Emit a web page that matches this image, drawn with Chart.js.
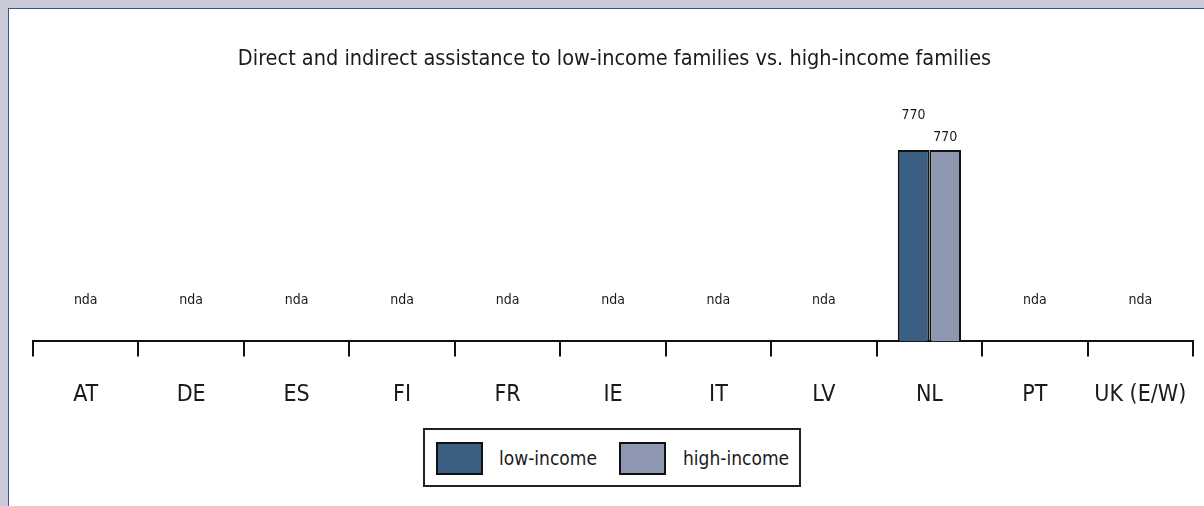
<!DOCTYPE html>
<html>
<head>
<meta charset="utf-8">
<script src="https://cdn.jsdelivr.net/npm/chart.js@4"></script>
<style>
  html, body { margin: 0; padding: 0; }
  body { width: 1204px; height: 506px; background: #c9ccd8; position: relative; overflow: hidden;
         font-family: "DejaVu Sans Condensed", "Roboto", sans-serif; }
  .panel { position: absolute; left: 8px; top: 8px; right: 0; bottom: 0; background: #fff; overflow: hidden;
           border-left: 1px solid #2c5a8a; border-top: 1px solid #2c5a8a; }
  canvas { position: absolute; left: 0; top: 0; }
  .legend { position: absolute; left: 414px; top: 419px; width: 374px; height: 55px;
            border: 2px solid #222; background: #fff; }
  .legend .sw { position: absolute; top: 12px; width: 43px; height: 29px; border: 2px solid #111; }
  .legend .lbl { position: absolute; top: 12px; line-height: 33px; font-size: 19px; color: #1a1a1a;
                 white-space: nowrap; }
</style>
</head>
<body>
<div class="panel">
  <canvas id="chart" width="1203" height="497"></canvas>
  <div class="legend">
    <div class="sw" style="left:11px; background:#3a5f82"></div>
    <div class="lbl" style="left:74px">low-income</div>
    <div class="sw" style="left:194px; background:#8e97b0"></div>
    <div class="lbl" style="left:258px">high-income</div>
  </div>
</div>
<script>
const countries = ["AT", "DE", "ES", "FI", "FR", "IE", "IT", "LV", "NL", "PT", "UK (E/W)"]
// null = no data available ("nda")
const lowIncome = [null, null, null, null, null, null, null, null, 770, null, null]
const highIncome = [null, null, null, null, null, null, null, null, 770, null, null]
const chartTitle = "Direct and indirect assistance to low-income families vs. high-income families"

const fontFamily = '"DejaVu Sans Condensed", "Roboto", sans-serif'

// value labels above bars, "nda" where a country has no data
const barLabels = {
  id: "barLabels",
  afterDatasetsDraw(chart) {
    const ctx = chart.ctx
    const xScale = chart.scales.x
    ctx.save()
    ctx.font = "14px " + fontFamily
    ctx.fillStyle = "#1a1a1a"
    ctx.textAlign = "center"
    ctx.textBaseline = "middle"
    chart.data.datasets.forEach((ds, di) => {
      const meta = chart.getDatasetMeta(di)
      meta.data.forEach((bar, i) => {
        if (ds.data[i] == null) return
        const lift = di === 0 ? 35 : 13
        ctx.fillText(String(ds.data[i]), bar.x, bar.y - lift)
      })
    })
    countries.forEach((c, i) => {
      if (lowIncome[i] == null && highIncome[i] == null) {
        ctx.fillText("nda", xScale.getPixelForValue(i), chart.chartArea.bottom - 41)
      }
    })
    ctx.restore()
  }
}

const ctx = document.getElementById("chart")
const myChart = new Chart(ctx, {
  type: "bar",
  data: {
    labels: countries,
    datasets: [{
      label: "low-income",
      data: lowIncome,
      backgroundColor: "#3a5f82",
      borderColor: "#111",
      borderWidth: 2,
      borderSkipped: "bottom"
    }, {
      label: "high-income",
      data: highIncome,
      backgroundColor: "#8e97b0",
      borderColor: "#111",
      borderWidth: 2,
      borderSkipped: "bottom"
    }]
  },
  options: {
    responsive: false,
    animation: false,
    layout: {
      padding: { left: 24, right: 16, top: 0, bottom: 72 }
    },
    datasets: {
      bar: { categoryPercentage: 0.6, barPercentage: 1.0 }
    },
    scales: {
      x: {
        grid: {
          offset: true,
          drawOnChartArea: false,
          color: "#111",
          lineWidth: 2,
          tickLength: 15
        },
        border: { color: "#111", width: 2 },
        ticks: {
          padding: 25,
          color: "#1a1a1a",
          font: { family: fontFamily, size: 23 }
        }
      },
      y: {
        display: false,
        min: 0,
        max: 1000
      }
    },
    plugins: {
      legend: { display: false },
      tooltip: { enabled: false },
      title: {
        display: true,
        text: chartTitle,
        color: "#1a1a1a",
        font: { family: fontFamily, size: 21.5, weight: "normal" },
        padding: { top: 38, bottom: 20 }
      }
    }
  },
  plugins: [barLabels]
})
</script>
</body>
</html>
